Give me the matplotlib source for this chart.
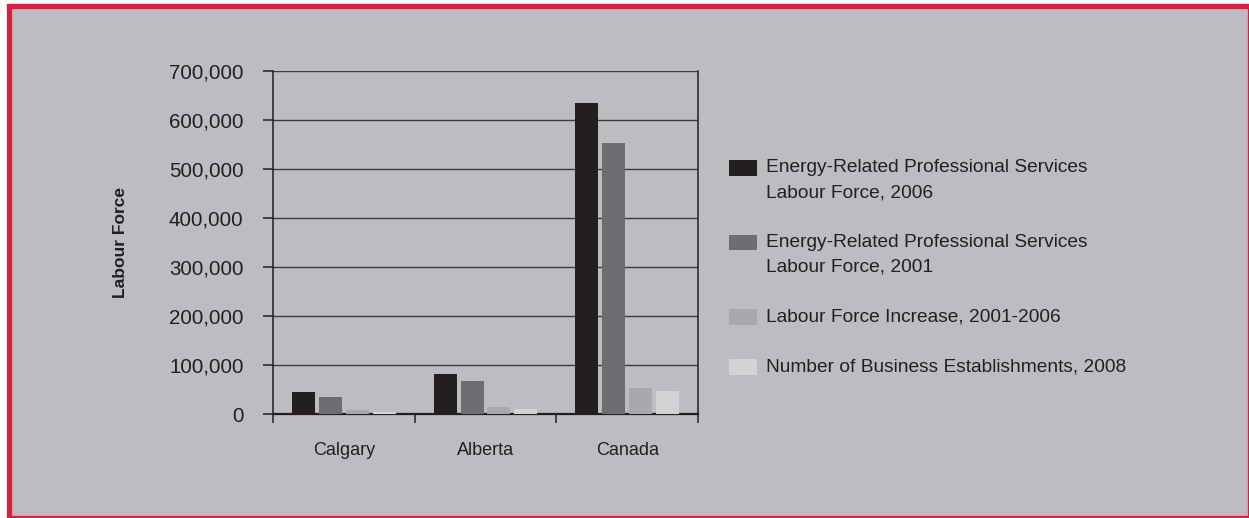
import numpy as np
import matplotlib.pyplot as plt
from matplotlib.patches import Rectangle

regions = ['Calgary', 'Alberta', 'Canada']
labour_2006 = [45000, 82000, 635000]
labour_2001 = [35000, 67000, 553000]
labour_increase = [8000, 14500, 53000]
establishments = [4000, 10000, 47000]

series_labels = [
    'Energy-Related Professional Services\nLabour Force, 2006',
    'Energy-Related Professional Services\nLabour Force, 2001',
    'Labour Force Increase, 2001-2006',
    'Number of Business Establishments, 2008',
]
series_colors = ['#231f20', '#6d6e71', '#a7a9ac', '#d1d3d4']
y_ticks = [0, 100000, 200000, 300000, 400000, 500000, 600000, 700000]

plt.rcParams['font.family'] = ['Liberation Sans', 'DejaVu Sans']
text_color = '#231f20'
bg = '#bcbdc1'
W, H = 1249, 518

fig = plt.figure(figsize=(W / 100, H / 100), dpi=100, facecolor='white')
# grey panel with red frame (frame is partly cut by the right and bottom edges)
fig.patches.append(Rectangle((8.5 / W, -0.3 / H), (1249.6 - 8.5) / W, (511.5 + 0.3) / H,
                             transform=fig.transFigure, facecolor=bg,
                             edgecolor='#e31b3f', linewidth=3.8, zorder=-10))

ax = fig.add_axes([273 / W, 104 / H, 425 / W, 343 / H])
ax.patch.set_alpha(0)

x = np.arange(len(regions))
step = 0.19
width = 0.162
all_series = [labour_2006, labour_2001, labour_increase, establishments]
for i, (vals, col) in enumerate(zip(all_series, series_colors)):
    ax.bar(x + (i - 1.5) * step, vals, width=width, color=col, zorder=3, linewidth=0)

ax.set_xlim(-0.5, len(regions) - 0.5)
ax.set_ylim(0, 700000)
ax.set_yticks(y_ticks)
ax.set_yticklabels(['{:,}'.format(v) for v in y_ticks], fontsize=14.8, color=text_color)
ax.yaxis.grid(True, color='#3c3c3e', linewidth=1.0, zorder=1)
ax.set_axisbelow(True)

ax.set_xticks(np.arange(-0.5, len(regions), 1.0))
ax.set_xticklabels([])
ax.set_xticks(x, minor=True)
ax.set_xticklabels(regions, minor=True, fontsize=13, color=text_color)
ax.tick_params(axis='x', which='major', direction='out', length=6.5, width=1.1, color=text_color)
ax.tick_params(axis='x', which='minor', length=0, pad=20)
ax.tick_params(axis='y', direction='out', length=7.2, width=1.1, color=text_color, pad=14)

for side in ['left', 'right', 'bottom']:
    ax.spines[side].set_color(text_color)
    ax.spines[side].set_linewidth(1.1)
ax.spines['bottom'].set_linewidth(1.6)
ax.spines['top'].set_visible(False)

ax.set_ylabel('Labour Force', fontsize=12.5, fontweight='bold', color=text_color,
              fontstretch='condensed')
ax.yaxis.set_label_coords(-0.341, 0.5)

# legend drawn by hand so the swatch sits on the first text line
line_h = 24.5
gap = 25.5
y_px = 168
for lab, col in zip(series_labels, series_colors):
    fig.patches.append(Rectangle((729 / W, (H - y_px - 7.7) / H), 28 / W, 15.4 / H,
                                 transform=fig.transFigure, facecolor=col, edgecolor='none'))
    lines = lab.split('\n')
    for k, line in enumerate(lines):
        fig.text(766 / W, (H - y_px - k * line_h) / H, line, fontsize=13.8, color=text_color,
                 va='center', ha='left')
    y_px += line_h * len(lines) + gap

fig.savefig('out.png', dpi=100, facecolor='white')
